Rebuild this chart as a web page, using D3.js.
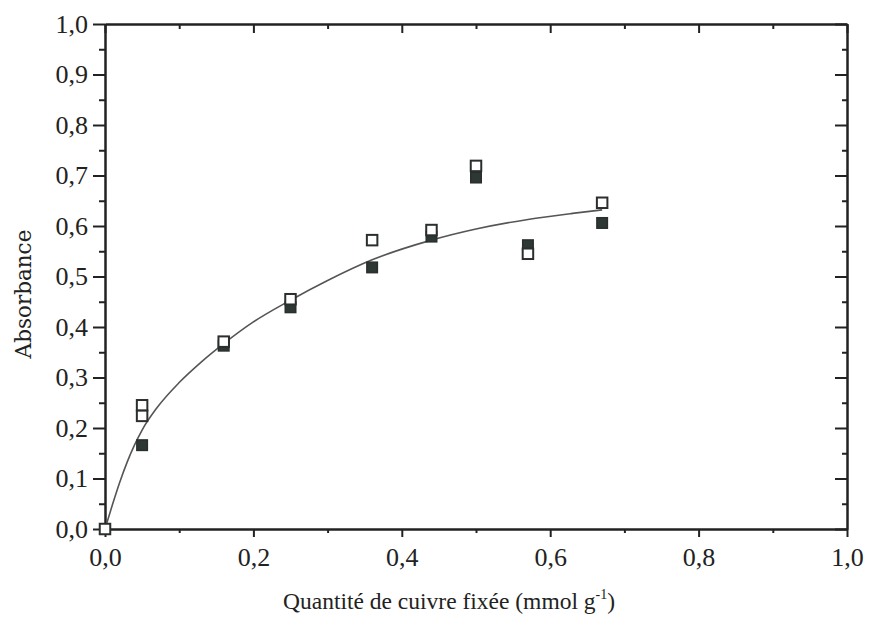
<!DOCTYPE html>
<html>
<head>
<meta charset="utf-8">
<script src="https://cdn.jsdelivr.net/npm/d3@7"></script>
<style>
  html, body { margin: 0; padding: 0; background: #ffffff; }
  svg { display: block; }
</style>
</head>
<body>
<svg id="chart" width="869" height="633"></svg>
<script>
// ---- data ----
const openX  = [0.0, 0.05, 0.05, 0.16, 0.25, 0.36, 0.44, 0.50, 0.57, 0.67];
const openY  = [0.0, 0.245, 0.224, 0.371, 0.455, 0.572, 0.592, 0.719, 0.545, 0.646];
const filledX = [0.05, 0.16, 0.25, 0.36, 0.44, 0.50, 0.57, 0.67];
const filledY = [0.166, 0.363, 0.439, 0.518, 0.579, 0.696, 0.562, 0.606];
// fitted curve, points
const curveX = [0, 0.01, 0.02, 0.03, 0.04, 0.05, 0.07, 0.10, 0.13, 0.16, 0.20, 0.25, 0.30, 0.36, 0.44, 0.50, 0.57, 0.63, 0.67];
const curveY = [0, 0.048, 0.093, 0.133, 0.167, 0.196, 0.240, 0.290, 0.331, 0.367, 0.410, 0.453, 0.492, 0.533, 0.572, 0.594, 0.613, 0.625, 0.632];
const xMajor = [0, 0.2, 0.4, 0.6, 0.8, 1.0];
const xMinor = [0.1, 0.3, 0.5, 0.7, 0.9];
const yMajor = [0, 0.1, 0.2, 0.3, 0.4, 0.5, 0.6, 0.7, 0.8, 0.9, 1.0];
const yMinor = [0.05, 0.15, 0.25, 0.35, 0.45, 0.55, 0.65, 0.75, 0.85, 0.95];
const xTitle = "Quantité de cuivre fixée (mmol g";
const xTitleSup = "-1";
const yTitle = "Absorbance";

// ---- layout ----
const svg = d3.select("#chart");
const L = 105, R = 847, T = 24, B = 529;
const x = d3.scaleLinear().domain([0, 1]).range([L, R]);
const y = d3.scaleLinear().domain([0, 1]).range([B, T]);
const fmt = d => d3.format(".1f")(d).replace(".", ",");
const ink = "#222";
const serif = "'Liberation Serif', 'Times New Roman', serif";

function styleAxis(g) {
  g.select(".domain").attr("stroke", ink).attr("stroke-width", 2);
  g.selectAll(".tick line").attr("stroke", ink).attr("stroke-width", 2);
  g.selectAll(".tick text").attr("fill", ink).attr("font-family", serif).attr("font-size", 26);
}

// bottom axis
svg.append("g").attr("transform", `translate(0,${B})`)
  .call(d3.axisBottom(x).tickValues(xMinor).tickSize(4).tickFormat("").tickSizeOuter(0))
  .call(styleAxis);
svg.append("g").attr("transform", `translate(0,${B})`)
  .call(d3.axisBottom(x).tickValues(xMajor).tickSize(8).tickPadding(11).tickFormat(fmt).tickSizeOuter(0))
  .call(styleAxis);
// top axis (inward ticks)
svg.append("g").attr("transform", `translate(0,${T})`)
  .call(d3.axisTop(x).tickValues(xMinor).tickSize(-5).tickFormat("").tickSizeOuter(0))
  .call(styleAxis);
svg.append("g").attr("transform", `translate(0,${T})`)
  .call(d3.axisTop(x).tickValues(xMajor).tickSize(-9).tickFormat("").tickSizeOuter(0))
  .call(styleAxis);
// left axis
svg.append("g").attr("transform", `translate(${L},0)`)
  .call(d3.axisLeft(y).tickValues(yMinor).tickSize(6).tickFormat("").tickSizeOuter(0))
  .call(styleAxis);
svg.append("g").attr("transform", `translate(${L},0)`)
  .call(d3.axisLeft(y).tickValues(yMajor).tickSize(12).tickPadding(5).tickFormat(fmt).tickSizeOuter(0))
  .call(styleAxis);
// right axis (inward ticks)
svg.append("g").attr("transform", `translate(${R},0)`)
  .call(d3.axisRight(y).tickValues(yMinor).tickSize(-5).tickFormat("").tickSizeOuter(0))
  .call(styleAxis);
svg.append("g").attr("transform", `translate(${R},0)`)
  .call(d3.axisRight(y).tickValues(yMajor).tickSize(-12).tickFormat("").tickSizeOuter(0))
  .call(styleAxis);

// fitted curve
const curvePts = curveX.map((v, i) => [v, curveY[i]]);
svg.append("path")
  .datum(curvePts)
  .attr("fill", "none")
  .attr("stroke", "#555")
  .attr("stroke-width", 1.6)
  .attr("d", d3.line().x(d => x(d[0])).y(d => y(d[1])).curve(d3.curveMonotoneX));

// markers
const S = 10.5;
svg.append("g").selectAll("rect")
  .data(filledX.map((v, i) => [v, filledY[i]]))
  .join("rect")
  .attr("x", d => x(d[0]) - S / 2).attr("y", d => y(d[1]) - S / 2)
  .attr("width", S).attr("height", S)
  .attr("fill", "#2d3834").attr("stroke", "#2a2f2d").attr("stroke-width", 1.5);
svg.append("g").selectAll("rect")
  .data(openX.map((v, i) => [v, openY[i]]))
  .join("rect")
  .attr("x", d => x(d[0]) - S / 2).attr("y", d => y(d[1]) - S / 2)
  .attr("width", S).attr("height", S)
  .attr("fill", "#ffffff").attr("stroke", "#2a2f2d").attr("stroke-width", 2);

// titles
const xt = svg.append("text")
  .attr("x", 283).attr("y", 609)
  .attr("font-family", serif).attr("font-size", 23.5).attr("fill", ink)
  .text(xTitle);
xt.append("tspan").attr("dy", -10).attr("font-size", 14).text(xTitleSup);
xt.append("tspan").attr("dy", 10).text(")");

svg.append("text")
  .attr("transform", `translate(31,${294}) rotate(-90)`)
  .attr("text-anchor", "middle")
  .attr("font-family", "'DejaVu Serif', serif").attr("font-size", 21.5).attr("fill", ink)
  .text(yTitle);
</script>
</body>
</html>
